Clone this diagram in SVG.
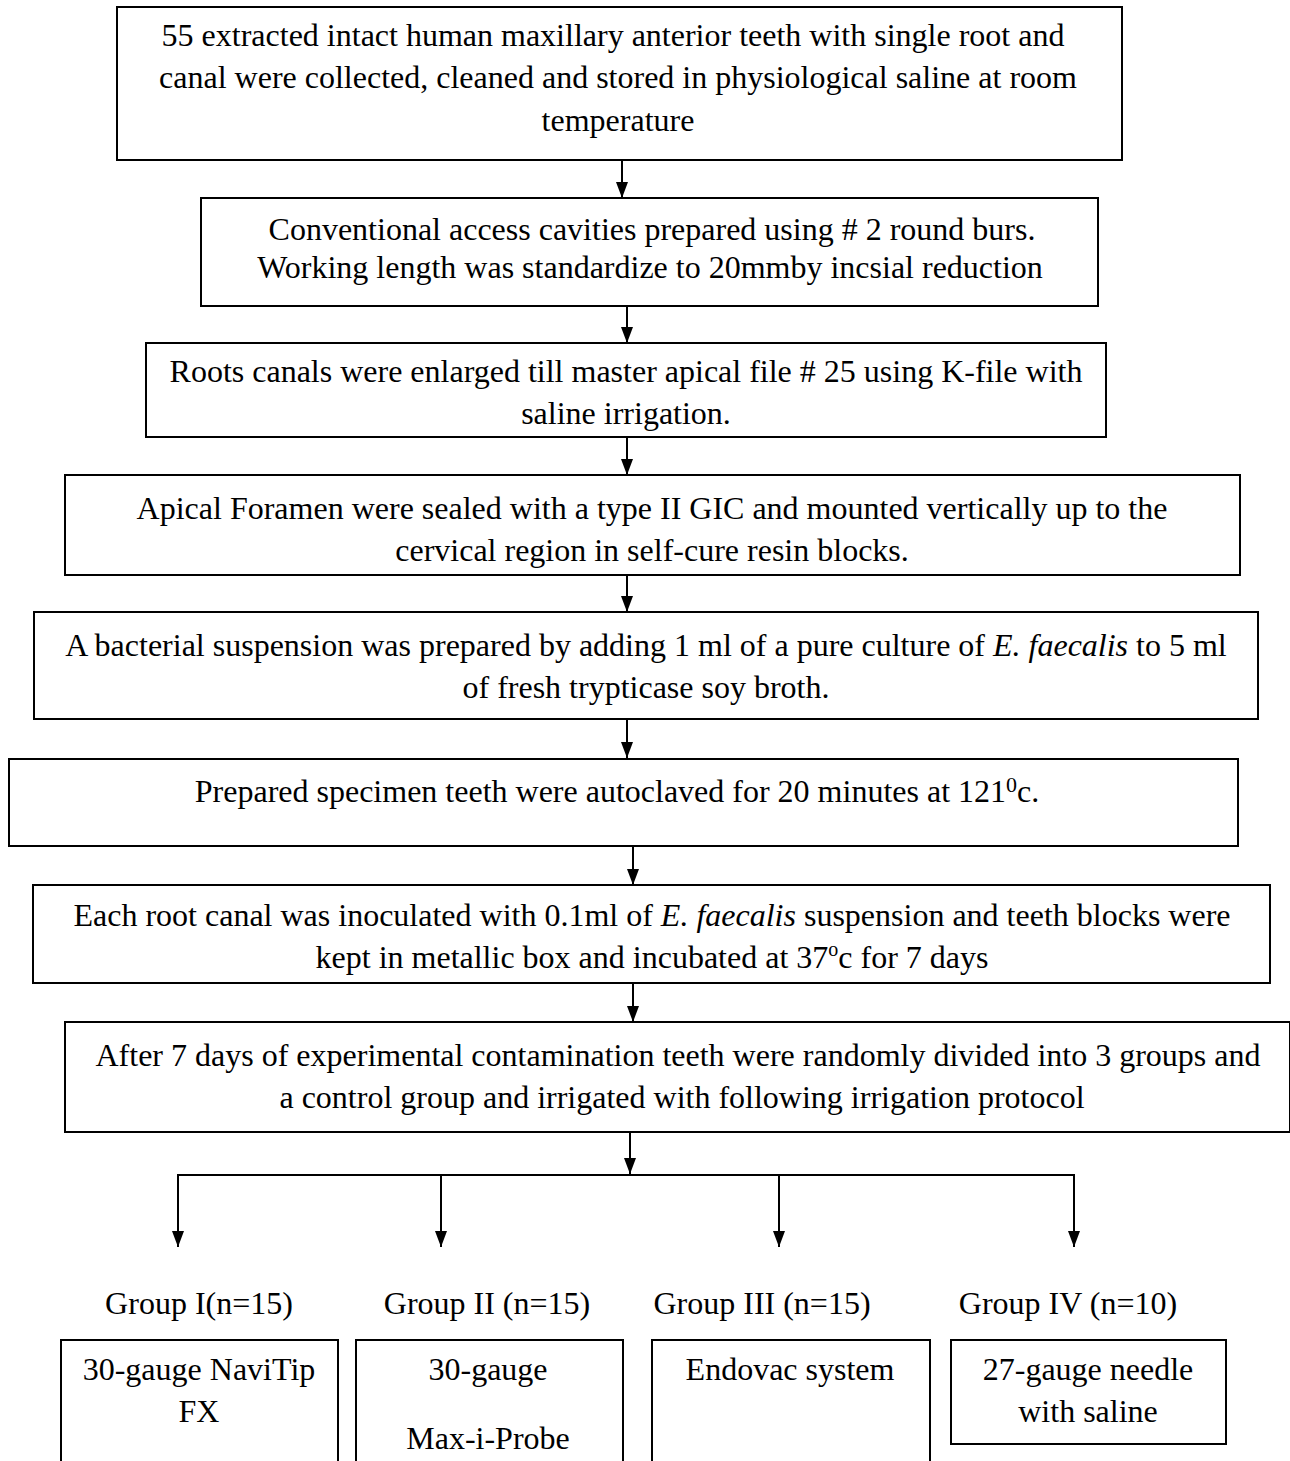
<svg xmlns="http://www.w3.org/2000/svg" width="1290" height="1461" viewBox="0 0 1290 1461">
<style>
.box{fill:#fff;stroke:#000;stroke-width:2}
.t{font-family:"Liberation Serif","Times New Roman",serif;font-size:32px;fill:#000;text-anchor:middle}
.c{stroke:#000;stroke-width:2;fill:none}
</style>
<defs>
<marker id="ah" markerWidth="16" markerHeight="12" refX="16" refY="6" orient="auto" markerUnits="userSpaceOnUse" viewBox="0 0 16 12">
<path d="M0,0 L16,6 L0,12 Z" fill="#000"/>
</marker>
</defs>
<rect width="1290" height="1461" fill="#fff"/>
<g id="n1"><rect class="box" x="117" y="7" width="1005" height="153"/>
<text class="t" x="613" y="46">55 extracted intact human maxillary anterior teeth with single root and</text>
<text class="t" x="618" y="88">canal were collected, cleaned and stored  in physiological saline at room</text>
<text class="t" x="618" y="131">temperature</text></g>
<g id="n2"><rect class="box" x="201" y="198" width="897" height="108"/>
<text class="t" x="652" y="240">Conventional access cavities prepared using # 2 round burs.</text>
<text class="t" x="650" y="278">Working length was standardize to 20mmby incsial reduction</text></g>
<g id="n3"><rect class="box" x="146" y="343" width="960" height="94"/>
<text class="t" x="626" y="382">Roots canals were enlarged till master apical file # 25 using K-file with</text>
<text class="t" x="626" y="424">saline irrigation.</text></g>
<g id="n4"><rect class="box" x="65" y="475" width="1175" height="100"/>
<text class="t" x="652" y="519">Apical Foramen were sealed with a type II GIC and mounted vertically up to the</text>
<text class="t" x="652" y="561">cervical region in self-cure resin blocks.</text></g>
<g id="n5"><rect class="box" x="34" y="612" width="1224" height="107"/>
<text class="t" x="646" y="656">A bacterial suspension was prepared by adding 1 ml of a pure culture of <tspan font-style="italic">E. faecalis</tspan> to 5 ml</text>
<text class="t" x="646" y="698">of fresh trypticase soy broth.</text></g>
<g id="n6"><rect class="box" x="9" y="759" width="1229" height="87"/>
<text class="t" x="617" y="802">Prepared specimen teeth were autoclaved for 20 minutes at 121<tspan dy="-10" font-size="22">0</tspan><tspan dy="10">c.</tspan></text></g>
<g id="n7"><rect class="box" x="33" y="885" width="1237" height="98"/>
<text class="t" x="652" y="926">Each root canal was inoculated with 0.1ml of <tspan font-style="italic">E. faecalis</tspan> suspension and teeth blocks were</text>
<text class="t" x="652" y="968">kept in metallic box and incubated at 37<tspan dy="-12" font-size="20">o</tspan><tspan dy="12">c for 7 days</tspan></text></g>
<g id="n8"><rect class="box" x="65" y="1022" width="1225" height="110"/>
<text class="t" x="678" y="1066">After 7 days of experimental contamination teeth were randomly divided into 3 groups and</text>
<text class="t" x="682" y="1108">a control group and irrigated with following irrigation protocol</text></g>
<g id="connectors">
<line class="c" x1="622" y1="160" x2="622" y2="198" marker-end="url(#ah)"/>
<line class="c" x1="627" y1="306" x2="627" y2="343" marker-end="url(#ah)"/>
<line class="c" x1="627" y1="437" x2="627" y2="475" marker-end="url(#ah)"/>
<line class="c" x1="627" y1="575" x2="627" y2="612" marker-end="url(#ah)"/>
<line class="c" x1="627" y1="719" x2="627" y2="758" marker-end="url(#ah)"/>
<line class="c" x1="633" y1="846" x2="633" y2="885" marker-end="url(#ah)"/>
<line class="c" x1="633" y1="983" x2="633" y2="1022" marker-end="url(#ah)"/>
<line class="c" x1="630" y1="1132" x2="630" y2="1174" marker-end="url(#ah)"/>
<line class="c" x1="177" y1="1175" x2="1075" y2="1175"/>
<line class="c" x1="178" y1="1175" x2="178" y2="1247" marker-end="url(#ah)"/>
<line class="c" x1="441" y1="1175" x2="441" y2="1247" marker-end="url(#ah)"/>
<line class="c" x1="779" y1="1175" x2="779" y2="1247" marker-end="url(#ah)"/>
<line class="c" x1="1074" y1="1175" x2="1074" y2="1247" marker-end="url(#ah)"/>
</g>
<g id="labels">
<text class="t" x="199" y="1314">Group I(n=15)</text>
<text class="t" x="487" y="1314">Group II (n=15)</text>
<text class="t" x="762" y="1314">Group III (n=15)</text>
<text class="t" x="1068" y="1314">Group IV (n=10)</text>
</g>
<g id="g1"><rect class="box" x="61" y="1340" width="277" height="130"/>
<text class="t" x="199" y="1380">30-gauge NaviTip</text>
<text class="t" x="199" y="1422">FX</text></g>
<g id="g2"><rect class="box" x="356" y="1340" width="267" height="130"/>
<text class="t" x="488" y="1380">30-gauge</text>
<text class="t" x="488" y="1449">Max-i-Probe</text></g>
<g id="g3"><rect class="box" x="652" y="1340" width="278" height="130"/>
<text class="t" x="790" y="1380">Endovac system</text></g>
<g id="g4"><rect class="box" x="951" y="1340" width="275" height="104"/>
<text class="t" x="1088" y="1380">27-gauge needle</text>
<text class="t" x="1088" y="1422">with saline</text></g>
</svg>
